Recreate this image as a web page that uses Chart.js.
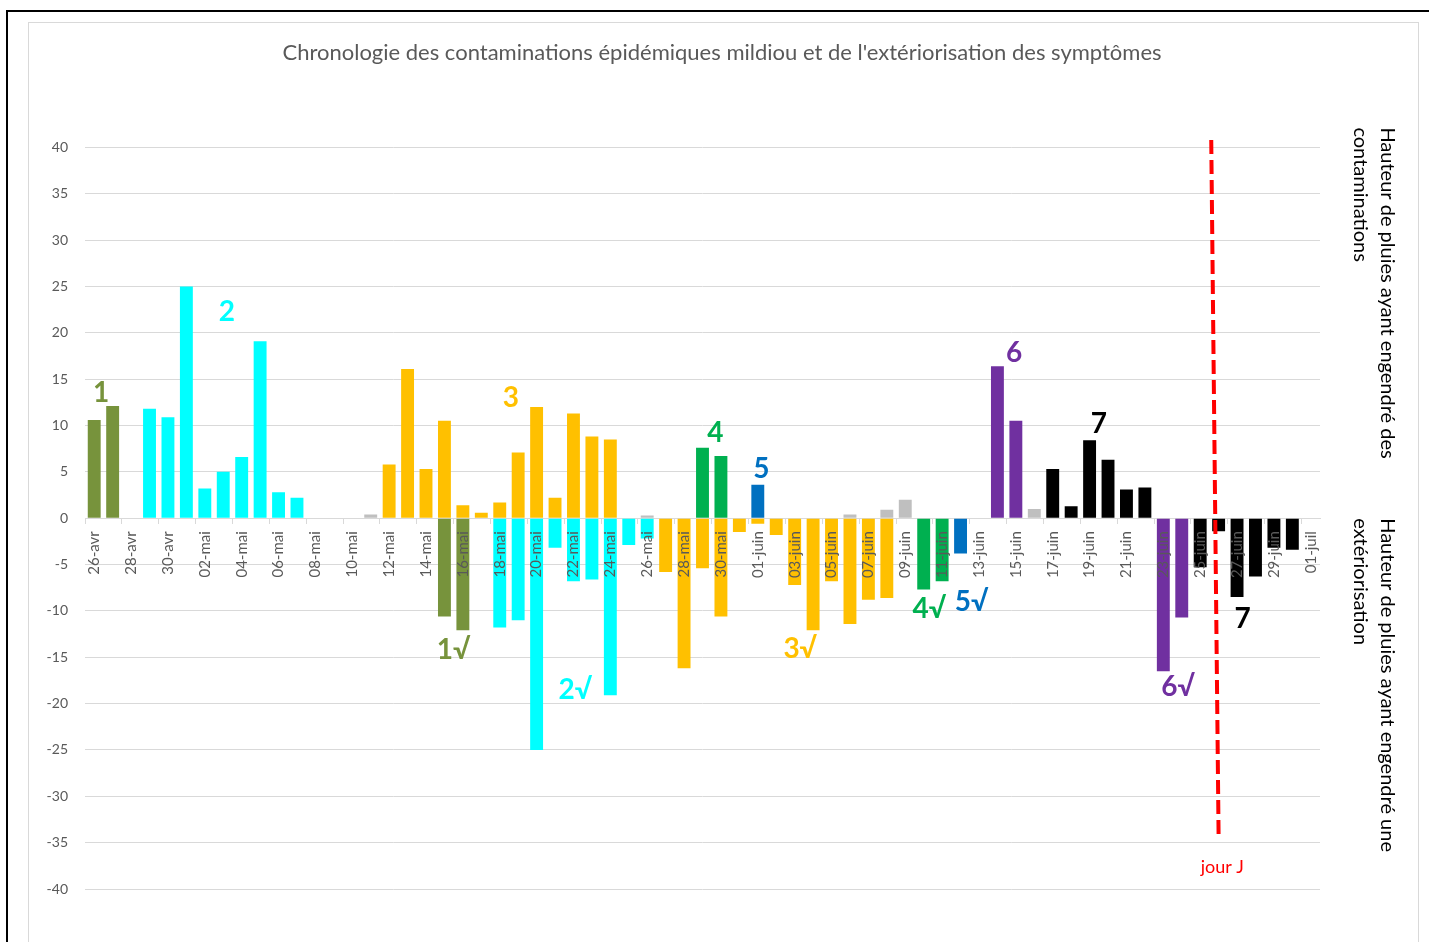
<!DOCTYPE html>
<html lang="fr">
<head>
<meta charset="utf-8">
<title>Chronologie des contaminations mildiou</title>
<script src="https://cdn.jsdelivr.net/npm/chart.js@4/dist/chart.umd.min.js"></script>
<style>
  html, body { margin: 0; background: #fff; overflow: hidden; }
  #frame { position: absolute; left: 6px; top: 10px; width: 1440px; height: 950px; border-top: 2px solid #000; border-left: 2px solid #000; }
  #box { position: absolute; left: 28px; top: 22px; width: 1389px; height: 940px; border: 1px solid #d9d9d9; }
  #chart { position: absolute; left: 0; top: 0; }
</style>
</head>
<body>
<div id="frame"></div>
<div id="box"></div>
<canvas id="chart" width="1429" height="942"></canvas>
<script>
const days = [
  '26-avr', '27-avr', '28-avr', '29-avr', '30-avr',
  '01-mai', '02-mai', '03-mai', '04-mai', '05-mai', '06-mai', '07-mai', '08-mai', '09-mai', '10-mai',
  '11-mai', '12-mai', '13-mai', '14-mai', '15-mai', '16-mai', '17-mai', '18-mai', '19-mai', '20-mai',
  '21-mai', '22-mai', '23-mai', '24-mai', '25-mai', '26-mai', '27-mai', '28-mai', '29-mai', '30-mai', '31-mai',
  '01-juin', '02-juin', '03-juin', '04-juin', '05-juin', '06-juin', '07-juin', '08-juin', '09-juin', '10-juin',
  '11-juin', '12-juin', '13-juin', '14-juin', '15-juin', '16-juin', '17-juin', '18-juin', '19-juin', '20-juin',
  '21-juin', '22-juin', '23-juin', '24-juin', '25-juin', '26-juin', '27-juin', '28-juin', '29-juin', '30-juin',
  '01-juil'
];

// pluies ayant engendré des contaminations (mm)
const contaminations = [
  10.6, 12.1, null, 11.8, 10.9,
  25.0, 3.2, 5.0, 6.6, 19.1, 2.8, 2.2, null, null, null,
  0.4, 5.8, 16.1, 5.3, 10.5, 1.4, 0.6, 1.7, 7.1, 12.0,
  2.2, 11.3, 8.8, 8.5, null, 0.3, null, null, 7.6, 6.7, null,
  3.6, null, null, null, null, 0.4, null, 0.9, 2.0, null,
  null, null, null, 16.4, 10.5, 1.0, 5.3, 1.3, 8.4, 6.3,
  3.1, 3.3, null, null, null, null, null, null, null, null,
  null
];
const contaminationEpisode = [
  '1', '1', '', '2', '2',
  '2', '2', '2', '2', '2', '2', '2', '', '', '',
  'g', '3', '3', '3', '3', '3', '3', '3', '3', '3',
  '3', '3', '3', '3', '', 'g', '', '', '4', '4', '',
  '5', '', '', '', '', 'g', '', 'g', 'g', '',
  '', '', '', '6', '6', 'g', '7', '7', '7', '7',
  '7', '7', '', '', '', '', '', '', '', '',
  ''
];

// pluies ayant engendré une extériorisation (mm, en négatif)
const exteriorisation = [
  null, null, null, null, null,
  null, null, null, null, null, null, null, null, null, null,
  null, null, null, null, -10.6, -12.1, null, -11.8, -11.0, -25.0,
  -3.2, -6.8, -6.6, -19.1, -2.9, -2.2, -5.8, -16.2, -5.4, -10.6, -1.5,
  -0.6, -1.8, -7.2, -12.1, -6.8, -11.4, -8.8, -8.6, null, -7.7,
  -6.8, -3.8, null, null, null, null, null, null, null, null,
  null, null, -16.5, -10.7, -5.3, -1.4, -8.5, -6.3, -3.2, -3.4,
  null
];
const exteriorisationEpisode = [
  '', '', '', '', '',
  '', '', '', '', '', '', '', '', '', '',
  '', '', '', '', '1', '1', '', '2', '2', '2',
  '2', '2', '2', '2', '2', '2', '3', '3', '3', '3', '3',
  '3', '3', '3', '3', '3', '3', '3', '3', '', '4',
  '4', '5', '', '', '', '', '', '', '', '',
  '', '', '6', '6', '7', '7', '7', '7', '7', '7',
  ''
];

// trait "jour J" (position en jours depuis le 26-avr, hauteur en mm)
const jourJDay = [60.6, 61.0];
const jourJValue = [40.8, -34.5];

const yTicks = { min: -40, max: 40, step: 5 };

const palette = {
  '1': '#77933c', '2': '#00ffff', '3': '#ffc000', '4': '#00b050',
  '5': '#0070c0', '6': '#7030a0', '7': '#000000', 'g': '#bfbfbf'
};
const FONT = "Lato, 'Open Sans', sans-serif";

// étiquettes d'épisodes posées sur le graphique
const marks = [
  { text: '1', day: 0.37, value: 13.5, ep: '1' },
  { text: '2', day: 7.2, value: 22.3, ep: '2' },
  { text: '3', day: 22.6, value: 13.0, ep: '3' },
  { text: '4', day: 33.7, value: 9.2, ep: '4' },
  { text: '5', day: 36.2, value: 5.3, ep: '5' },
  { text: '6', day: 49.9, value: 17.8, ep: '6' },
  { text: '7', day: 54.5, value: 10.2, ep: '7' },
  { text: '1√', day: 19.5, value: -14.2, ep: '1' },
  { text: '2√', day: 26.1, value: -18.5, ep: '2' },
  { text: '3√', day: 38.3, value: -14.1, ep: '3' },
  { text: '4√', day: 45.3, value: -9.8, ep: '4' },
  { text: '5√', day: 47.6, value: -9.05, ep: '5' },
  { text: '6√', day: 58.8, value: -18.2, ep: '6' },
  { text: '7', day: 62.3, value: -10.9, ep: '7' }
];

const colorsFor = eps => eps.map(e => palette[e] || 'transparent');

const markPlugin = {
  id: 'marks',
  afterDatasetsDraw(chart) {
    const { ctx, chartArea } = chart;
    const x = chart.scales.x2, y = chart.scales.y;
    ctx.save();
    ctx.textAlign = 'center';
    ctx.textBaseline = 'middle';
    ctx.font = 'bold 28px ' + FONT;
    marks.forEach(m => {
      ctx.fillStyle = palette[m.ep];
      ctx.fillText(m.text, x.getPixelForValue(m.day), y.getPixelForValue(m.value));
    });
    ctx.font = '18px ' + FONT;
    ctx.fillStyle = '#ff0000';
    ctx.fillText('jour J', x.getPixelForValue(61.2), y.getPixelForValue(-37.7));

    // titres verticaux à droite
    ctx.fillStyle = '#000';
    ctx.font = '20px ' + FONT;
    ctx.textAlign = 'left';
    const side = [
      { lines: ['Hauteur de pluies ayant engendré des', 'contaminations'], top: chartArea.top - 20 },
      { lines: ['Hauteur de pluies ayant engendré une', 'extériorisation'], top: y.getPixelForValue(0) }
    ];
    side.forEach(s => {
      s.lines.forEach((line, i) => {
        ctx.save();
        ctx.translate(chartArea.right + 67 - i * 27, s.top);
        ctx.rotate(Math.PI / 2);
        ctx.fillText(line, 0, 0);
        ctx.restore();
      });
    });
    ctx.restore();
  }
};

new Chart(document.getElementById('chart'), {
  type: 'bar',
  data: {
    labels: days,
    datasets: [
      {
        label: 'contaminations',
        data: contaminations,
        backgroundColor: colorsFor(contaminationEpisode),
        grouped: false,
        barPercentage: 0.7,
        categoryPercentage: 1,
        order: 2
      },
      {
        label: 'extériorisation',
        data: exteriorisation,
        backgroundColor: colorsFor(exteriorisationEpisode),
        grouped: false,
        barPercentage: 0.7,
        categoryPercentage: 1,
        order: 1
      },
      {
        type: 'line',
        label: 'jour J',
        data: jourJDay.map((d, i) => ({ x: d, y: jourJValue[i] })),
        xAxisID: 'x2',
        borderColor: '#ff0000',
        borderWidth: 4,
        borderDash: [14, 6],
        pointRadius: 0,
        fill: false,
        clip: false,
        order: 0
      }
    ]
  },
  options: {
    responsive: false,
    animation: false,
    layout: { padding: { left: 25, right: 10, top: 0, bottom: 53 } },
    plugins: {
      legend: { display: false },
      tooltip: { enabled: false },
      title: {
        display: true,
        text: "Chronologie des contaminations épidémiques mildiou et de l'extériorisation des symptômes",
        color: '#595959',
        font: { family: FONT, size: 22, weight: 'normal' },
        padding: { top: 40, bottom: 81 }
      }
    },
    scales: {
      x: {
        type: 'category',
        position: { y: 0 },
        offset: true,
        grid: {
          offset: true,
          drawOnChartArea: false,
          drawTicks: true,
          tickLength: 5,
          tickColor: c => (c.index % 2 === 0 ? '#d9d9d9' : 'transparent')
        },
        border: { color: '#d9d9d9' },
        ticks: {
          z: 1,
          autoSkip: false,
          minRotation: 90,
          maxRotation: 90,
          padding: 8,
          color: '#595959',
          font: { family: FONT, size: 15 },
          callback: (v, i) => (i % 2 === 0 ? days[i] : '')
        }
      },
      x2: {
        type: 'linear',
        display: false,
        offset: false,
        grid: { offset: false },
        min: -0.5,
        max: days.length - 0.5
      },
      y: {
        min: yTicks.min,
        max: yTicks.max,
        ticks: { stepSize: yTicks.step, padding: 17, color: '#595959', font: { family: FONT, size: 14 } },
        grid: { color: '#d9d9d9', drawTicks: false },
        border: { display: false },
        afterFit: s => { s.width = 60; }
      },
      yRight: {
        position: 'right',
        display: true,
        ticks: { display: false },
        grid: { display: false },
        border: { display: false },
        afterFit: s => { s.width = 99; }
      }
    }
  },
  plugins: [markPlugin]
});
</script>
</body>
</html>
